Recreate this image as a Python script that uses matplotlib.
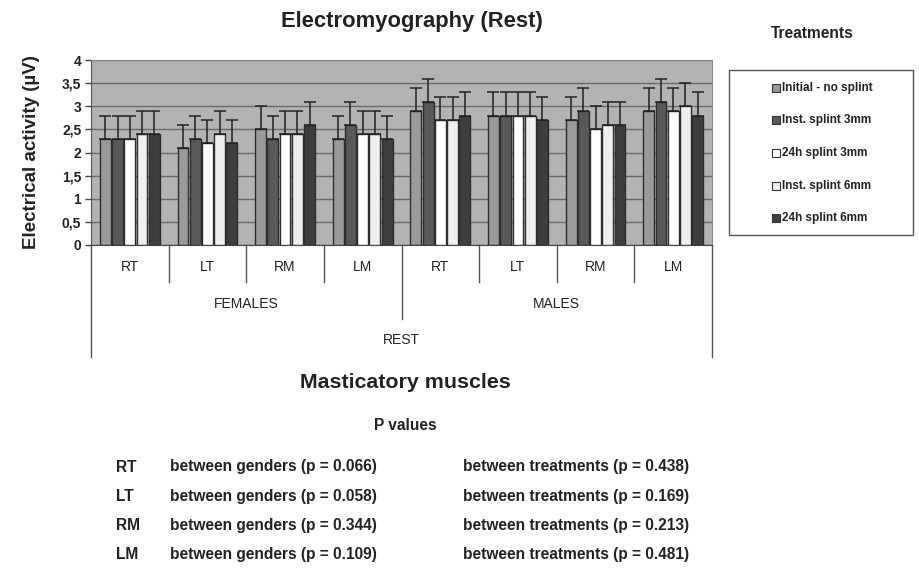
import numpy as np
import matplotlib
matplotlib.use("Agg")
from matplotlib import pyplot as plt
from matplotlib.patches import Rectangle

plt.rcParams['font.family'] = ['Liberation Sans', 'DejaVu Sans']
NARROW = ['Liberation Sans Narrow', 'Liberation Sans', 'DejaVu Sans']

# Data
muscles = ["RT", "LT", "RM", "LM", "RT", "LT", "RM", "LM"]
genders = ["FEMALES", "MALES"]
condition = "REST"
treatments = ["Initial - no splint", "Inst. splint 3mm", "24h splint 3mm",
              "Inst. splint 6mm", "24h splint 6mm"]

initial   = [2.3, 2.1, 2.5, 2.3, 2.9, 2.8, 2.7, 2.9]
inst_3mm  = [2.3, 2.3, 2.3, 2.6, 3.1, 2.8, 2.9, 3.1]
h24_3mm   = [2.3, 2.2, 2.4, 2.4, 2.7, 2.8, 2.5, 2.9]
inst_6mm  = [2.4, 2.4, 2.4, 2.4, 2.7, 2.8, 2.6, 3.0]
h24_6mm   = [2.4, 2.2, 2.6, 2.3, 2.8, 2.7, 2.6, 2.8]
series = [initial, inst_3mm, h24_3mm, inst_6mm, h24_6mm]

err = [[0.5] * 8] * 5   # standard deviations (upper bars only)

p_muscles = ["RT", "LT", "RM", "LM"]
p_genders = ["0.066", "0.058", "0.344", "0.109"]
p_treatments = ["0.438", "0.169", "0.213", "0.481"]

colors = ["#9a9a9a", "#595959", "#ffffff", "#efefef", "#3e3e3e"]
TXT = "#222222"

fig = plt.figure(figsize=(9.19, 5.69), dpi=100)
W, H = 919, 569
ax = fig.add_axes([91 / W, 1 - 245 / H, 621 / W, 185 / H])
ax.set_facecolor("#b3b3b3")

x = np.arange(len(muscles))
w = 0.14
step = 0.1575
for i, vals in enumerate(series):
    pos = x + (i - 2) * step
    ax.bar(pos, vals, width=w, color=colors[i], edgecolor="#2e2e2e", lw=1, zorder=3)
    ax.errorbar(pos, vals, yerr=[[0] * len(vals), err[i]], fmt="none",
                ecolor="#222222", elinewidth=1.1, capsize=4.5, capthick=1.1, zorder=4)

ax.set_xlim(-0.5, 7.5)
ax.set_ylim(0, 4)
ax.set_yticks(np.arange(0, 4.01, 0.5))
ax.set_yticklabels(["0", "0,5", "1", "1,5", "2", "2,5", "3", "3,5", "4"],
                   fontweight="bold", fontsize=10, color=TXT)
ax.tick_params(axis="y", length=4, width=1, color="#444444", pad=3)
ax.set_xticks([])
ax.yaxis.grid(True, color="#6a6a6a", lw=1, zorder=0)
ax.set_axisbelow(True)
for s in ["top", "right"]:
    ax.spines[s].set_color("#8a8a8a")
ax.spines["left"].set_color("#555555")
ax.spines["bottom"].set_color("#444444")

# category table below the axis
tr = ax.get_xaxis_transform()
r1, r2, r3 = -37 / 185, -74 / 185, -112 / 185
for b in [-0.5, 7.5]:
    ax.plot([b, b], [0, r3], transform=tr, color="#555555", lw=1, clip_on=False)
ax.plot([3.5, 3.5], [0, r2], transform=tr, color="#555555", lw=1, clip_on=False)
for b in [0.5, 1.5, 2.5, 4.5, 5.5, 6.5]:
    ax.plot([b, b], [0, r1], transform=tr, color="#555555", lw=1, clip_on=False)
for xi, m in zip(x, muscles):
    ax.text(xi, -22 / 185, m, transform=tr, ha="center", va="center",
            fontsize=10, family=NARROW, color=TXT)
for gi, g in enumerate(genders):
    ax.text(1.5 + 4 * gi, -59 / 185, g, transform=tr, ha="center", va="center",
            fontsize=10, family=NARROW, color=TXT)
ax.text(3.5, -95 / 185, condition, transform=tr, ha="center", va="center",
        fontsize=10, family=NARROW, color=TXT)

# titles
fig.text(412 / W, 1 - 22 / H, "Electromyography (Rest)", ha="center", va="center",
         fontsize=15.8, fontweight="bold", color=TXT)
fig.text(32 / W, 1 - 152 / H, "Electrical activity (\u00b5V)", ha="center", va="center",
         rotation=90, fontsize=13.5, fontweight="bold", color=TXT)
fig.text(405 / W, 1 - 383 / H, "Masticatory muscles", ha="center", va="center",
         fontsize=15.4, fontweight="bold", color=TXT)
fig.text(405 / W, 1 - 426 / H, "P values", ha="center", va="center",
         fontsize=11.2, fontweight="bold", family=NARROW, color=TXT)

# legend
fig.text(812 / W, 1 - 33 / H, "Treatments", ha="center", va="center",
         fontsize=11.2, fontweight="bold", family=NARROW, color=TXT)
fig.add_artist(Rectangle((729 / W, 1 - 235 / H), 184 / W, 165 / H,
                         transform=fig.transFigure, fill=False,
                         edgecolor="#555555", lw=1))
for i, name in enumerate(treatments):
    yc = 1 - (88 + i * 32.5) / H
    fig.add_artist(Rectangle((772 / W, yc - 4 / H), 8 / W, 8 / H,
                             transform=fig.transFigure, facecolor=colors[i],
                             edgecolor="#333333", lw=0.8))
    fig.text(782 / W, yc, name, ha="left", va="center", fontsize=8.5,
             fontweight="bold", family=NARROW, color=TXT)

# p value table
for i, m in enumerate(p_muscles):
    yc = 1 - (467 + i * 29.3) / H
    fig.text(116 / W, yc, m, ha="left", va="center", fontsize=11.2,
             fontweight="bold", family=NARROW, color=TXT)
    fig.text(170 / W, yc, "between genders (p = %s)" % p_genders[i], ha="left",
             va="center", fontsize=11.2, fontweight="bold", family=NARROW, color=TXT)
    fig.text(463 / W, yc, "between treatments (p = %s)" % p_treatments[i], ha="left",
             va="center", fontsize=11.2, fontweight="bold", family=NARROW, color=TXT)

fig.savefig("out.png", dpi=100)
